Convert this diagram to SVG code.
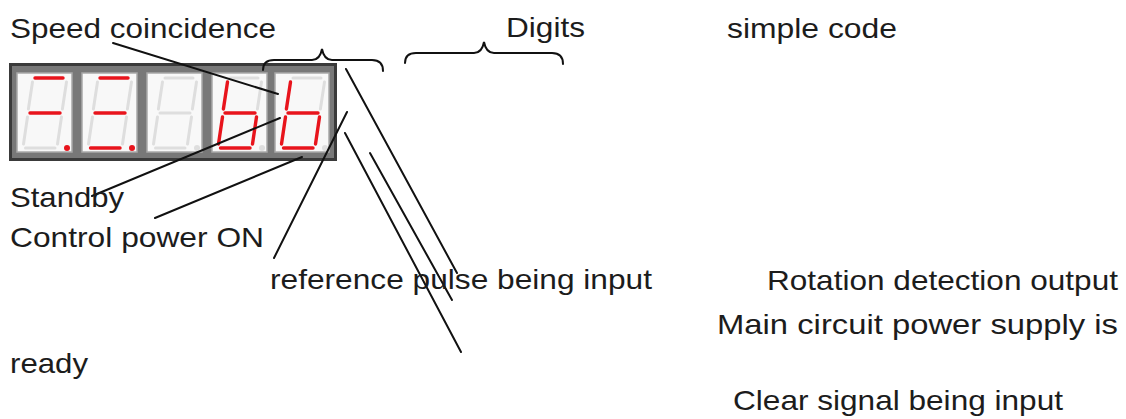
<svg xmlns="http://www.w3.org/2000/svg" xmlns:xlink="http://www.w3.org/1999/xlink" width="1126" height="419" viewBox="0 0 1126 419">
<style>
text{font-family:"Liberation Sans",Arial,sans-serif;font-size:28px;fill:#1c1c1c}
.ln{stroke:#111;stroke-width:2;fill:none;stroke-linecap:round}
.on{stroke:#e8141c;stroke-width:3.4;stroke-linecap:round;fill:none}
.off{stroke:#dedede;stroke-width:3;stroke-linecap:round;fill:none}
.dpon{fill:#e8141c}
.dpoff{fill:#dedede}
.cell{fill:#f8f8f8;stroke:#a8a8a8;stroke-width:1.5}
</style>
<defs>
<path id="sa" d="M18 5 L46 5"/>
<path id="sf" d="M15.5 9 L11.4 36"/>
<path id="sb" d="M49.5 9 L45.4 36"/>
<path id="sg" d="M13 40 L43 40"/>
<path id="se" d="M10.5 44 L6.5 71"/>
<path id="sc" d="M44.5 44 L40.5 71"/>
<path id="sd" d="M8.5 75 L38 75"/>
<circle id="sp" cx="50" cy="75" r="3"/>
</defs>
<rect width="1126" height="419" fill="#ffffff"/>
<g id="display">
<rect x="10.5" y="64.5" width="325" height="95" fill="#787878" stroke="#3a3a3a" stroke-width="3"/>
<g id="digit1" transform="translate(17,73)">
<rect class="cell" width="55" height="79"/>
<use xlink:href="#sa" class="on"/><use xlink:href="#sf" class="off"/><use xlink:href="#sb" class="off"/><use xlink:href="#sg" class="on"/><use xlink:href="#se" class="off"/><use xlink:href="#sc" class="off"/><use xlink:href="#sd" class="off"/><use xlink:href="#sp" class="dpon"/>
</g>
<g id="digit2" transform="translate(82,73)">
<rect class="cell" width="55" height="79"/>
<use xlink:href="#sa" class="on"/><use xlink:href="#sf" class="off"/><use xlink:href="#sb" class="off"/><use xlink:href="#sg" class="on"/><use xlink:href="#se" class="off"/><use xlink:href="#sc" class="off"/><use xlink:href="#sd" class="on"/><use xlink:href="#sp" class="dpon"/>
</g>
<g id="digit3" transform="translate(147,73)">
<rect class="cell" width="55" height="79"/>
<use xlink:href="#sa" class="off"/><use xlink:href="#sf" class="off"/><use xlink:href="#sb" class="off"/><use xlink:href="#sg" class="off"/><use xlink:href="#se" class="off"/><use xlink:href="#sc" class="off"/><use xlink:href="#sd" class="off"/><use xlink:href="#sp" class="dpoff"/>
</g>
<g id="digit4" transform="translate(212,73)">
<rect class="cell" width="55" height="79"/>
<use xlink:href="#sa" class="off"/><use xlink:href="#sb" class="off"/><use xlink:href="#sf" class="on"/><use xlink:href="#sg" class="on"/><use xlink:href="#se" class="on"/><use xlink:href="#sc" class="on"/><use xlink:href="#sd" class="on"/><use xlink:href="#sp" class="dpoff"/>
</g>
<g id="digit5" transform="translate(275,73)">
<rect class="cell" width="54" height="79" stroke="#555"/>
<use xlink:href="#sa" class="off"/><use xlink:href="#sb" class="off"/><use xlink:href="#sf" class="on"/><use xlink:href="#sg" class="on"/><use xlink:href="#se" class="on"/><use xlink:href="#sc" class="on"/><use xlink:href="#sd" class="on"/><use xlink:href="#sp" class="dpoff"/>
</g>
</g>
<g id="brackets">
<path class="ln" d="M263 70 Q263 60 274 60 L312 60 Q320 60 322 49 Q324 60 332 60 L372 60 Q383 60 383 71"/>
<path class="ln" d="M405 63 Q405 53 416 53 L474 53 Q482 53 484 42 Q486 53 494 53 L552 53 Q563 53 563 64"/>
</g>
<g id="connectors">
<line class="ln" x1="113" y1="43" x2="278" y2="94"/>
<line class="ln" x1="92" y1="196" x2="280" y2="118"/>
<line class="ln" x1="155" y1="218" x2="302" y2="157"/>
<line class="ln" x1="274" y1="258" x2="347" y2="112"/>
<line class="ln" x1="346" y1="69" x2="457" y2="273"/>
<line class="ln" x1="345" y1="133" x2="461" y2="352"/>
<line class="ln" x1="370" y1="153" x2="452" y2="300"/>
</g>
<g id="labels">
<text id="t-speed" x="10" y="38" textLength="266" lengthAdjust="spacingAndGlyphs">Speed coincidence</text>
<text id="t-digits" x="506" y="37" textLength="79" lengthAdjust="spacingAndGlyphs">Digits</text>
<text id="t-simple" x="727" y="38" textLength="170" lengthAdjust="spacingAndGlyphs">simple code</text>
<text id="t-standby" x="10" y="207" textLength="114" lengthAdjust="spacingAndGlyphs">Standby</text>
<text id="t-control" x="10" y="247" textLength="254" lengthAdjust="spacingAndGlyphs">Control power ON</text>
<text id="t-ref" x="270" y="289" textLength="382" lengthAdjust="spacingAndGlyphs">reference pulse being input</text>
<text id="t-rot" x="767" y="290" textLength="351" lengthAdjust="spacingAndGlyphs">Rotation detection output</text>
<text id="t-main" x="717" y="334" textLength="401" lengthAdjust="spacingAndGlyphs">Main circuit power supply is</text>
<text id="t-ready" x="10" y="373" textLength="78" lengthAdjust="spacingAndGlyphs">ready</text>
<text id="t-clear" x="733" y="410" textLength="330" lengthAdjust="spacingAndGlyphs">Clear signal being input</text>
</g>
</svg>
